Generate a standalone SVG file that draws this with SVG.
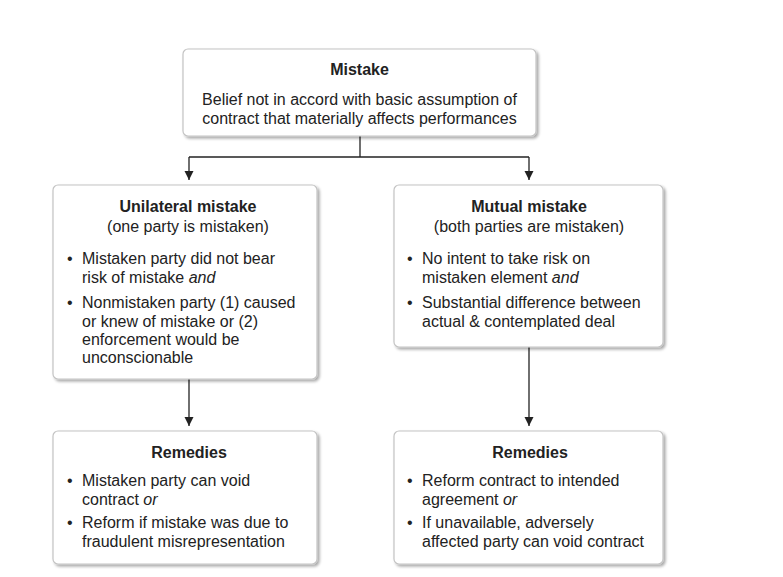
<svg xmlns="http://www.w3.org/2000/svg" width="783" height="577" viewBox="0 0 783 577">
  <style>
    text { font-family: "Liberation Sans", Arial, sans-serif; font-size: 16px; fill: #222; }
    .title { font-weight: bold; text-anchor: middle; }
    .ctr { text-anchor: middle; }
    .box { fill: #fff; stroke: #c4c4c4; stroke-width: 1.2; filter: url(#shadow); }
    .conn { fill: none; stroke: #222; stroke-width: 1.3; }
    .it { font-style: italic; }
  </style>
  <defs>
    <filter id="shadow" x="-5%" y="-5%" width="115%" height="115%">
      <feGaussianBlur in="SourceAlpha" stdDeviation="1.5"/>
      <feOffset dx="2" dy="2" result="b"/>
      <feComponentTransfer><feFuncA type="linear" slope="0.35"/></feComponentTransfer>
      <feMerge><feMergeNode/><feMergeNode in="SourceGraphic"/></feMerge>
    </filter>
    <marker id="arrow" markerUnits="userSpaceOnUse" markerWidth="10" markerHeight="10" refX="9" refY="4.5" orient="auto">
      <path d="M0,0 L9,4.5 L0,9 z" fill="#222"/>
    </marker>
  </defs>
  <rect width="783" height="577" fill="#fff"/>

  <g id="connectors">
    <path class="conn" d="M360,136 V157"/>
    <path class="conn" d="M189,157 H529"/>
    <path class="conn" d="M189,157 V180" marker-end="url(#arrow)"/>
    <path class="conn" d="M529,157 V180" marker-end="url(#arrow)"/>
    <path class="conn" d="M189,379 V426" marker-end="url(#arrow)"/>
    <path class="conn" d="M529,347 V426" marker-end="url(#arrow)"/>
  </g>

  <g id="mistake">
    <rect class="box" x="183" y="49" width="353" height="87" rx="5"/>
    <text class="title" x="359.5" y="75">Mistake</text>
    <text class="ctr" x="359.5" y="105">Belief not in accord with basic assumption of</text>
    <text class="ctr" x="359.5" y="124">contract that materially affects performances</text>
  </g>

  <g id="unilateral">
    <rect class="box" x="53" y="185" width="264" height="194" rx="5"/>
    <text class="title" x="188" y="212">Unilateral mistake</text>
    <text class="ctr" x="188" y="232">(one party is mistaken)</text>
    <text x="67" y="264">•</text>
    <text x="82" y="264">Mistaken party did not bear</text>
    <text x="82" y="283">risk of mistake <tspan class="it">and</tspan></text>
    <text x="67" y="308">•</text>
    <text x="82" y="308">Nonmistaken party (1) caused</text>
    <text x="82" y="327">or knew of mistake or (2)</text>
    <text x="82" y="345">enforcement would be</text>
    <text x="82" y="363">unconscionable</text>
  </g>

  <g id="mutual">
    <rect class="box" x="394" y="185" width="269" height="162" rx="5"/>
    <text class="title" x="529" y="212">Mutual mistake</text>
    <text class="ctr" x="529" y="232">(both parties are mistaken)</text>
    <text x="407" y="264">•</text>
    <text x="422" y="264">No intent to take risk on</text>
    <text x="422" y="283">mistaken element <tspan class="it">and</tspan></text>
    <text x="407" y="308">•</text>
    <text x="422" y="308">Substantial difference between</text>
    <text x="422" y="327">actual &amp; contemplated deal</text>
  </g>

  <g id="remedies-unilateral">
    <rect class="box" x="53" y="431" width="264" height="133" rx="5"/>
    <text class="title" x="189" y="458">Remedies</text>
    <text x="67" y="486">•</text>
    <text x="82" y="486">Mistaken party can void</text>
    <text x="82" y="505">contract <tspan class="it">or</tspan></text>
    <text x="67" y="528">•</text>
    <text x="82" y="528">Reform if mistake was due to</text>
    <text x="82" y="547">fraudulent misrepresentation</text>
  </g>

  <g id="remedies-mutual">
    <rect class="box" x="394" y="431" width="269" height="133" rx="5"/>
    <text class="title" x="530" y="458">Remedies</text>
    <text x="407" y="486">•</text>
    <text x="422" y="486">Reform contract to intended</text>
    <text x="422" y="505">agreement <tspan class="it">or</tspan></text>
    <text x="407" y="528">•</text>
    <text x="422" y="528">If unavailable, adversely</text>
    <text x="422" y="547">affected party can void contract</text>
  </g>
</svg>
